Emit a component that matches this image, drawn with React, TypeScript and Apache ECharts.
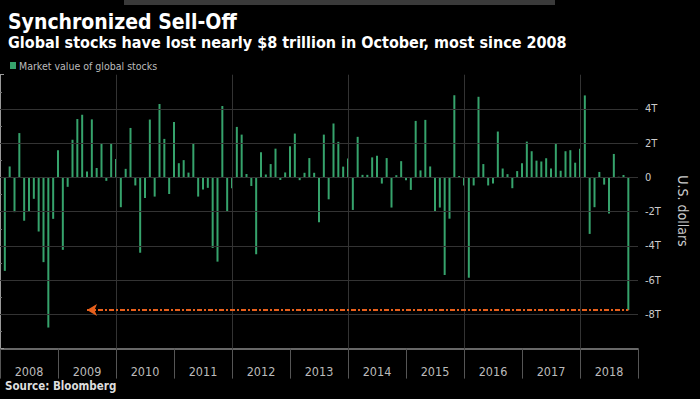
import React, { useEffect, useRef } from "react";
import * as echarts from "echarts";

const years = ["2008", "2009", "2010", "2011", "2012", "2013", "2014", "2015", "2016", "2017", "2018"];

// Monthly change in market value of global stocks, trillions of US$
const v2008 = [-5.46, 0.64, -2.03, 2.59, -2.53, -1.99, -1.25, -3.16, -4.95, -8.77, -2.42, 1.58];
const v2009 = [-4.23, -0.55, 2.2, 3.41, 3.66, 0.35, 3.39, 0.55, 2.0, -0.2, 2.0, 1.08];
const v2010 = [-1.74, 0.5, 2.89, -0.47, -4.4, -1.2, 3.38, -1.12, 4.29, 2.25, -0.97, 3.23];
const v2011 = [0.83, 1.01, 0.28, 2.0, -1.12, -0.7, -0.61, -4.12, -4.92, 4.17, -1.98, -0.63];
const v2012 = [2.95, 2.5, 0.2, -0.5, -4.49, 1.47, 0.17, 0.78, 1.68, -0.15, 0.29, 1.82];
const v2013 = [2.56, -0.16, 0.27, 1.13, 0.27, -2.62, 2.5, -1.28, 3.15, 2.08, 0.63, 1.11];
const v2014 = [-1.9, 2.37, 0.15, 0.15, 1.17, 1.26, -0.36, 1.13, -1.76, 0.13, 0.95, -0.16];
const v2015 = [-0.73, 3.3, 0.41, 3.36, 0.64, -2.0, -1.76, -5.7, -2.41, 4.8, 0.08, -0.47];
const v2016 = [-5.86, -0.47, 4.71, 0.78, -0.47, -0.35, 2.68, 0.52, 0.19, -0.63, 0.37, 0.83];
const v2017 = [2.09, 1.53, 0.98, 0.93, 1.12, 0.52, 1.95, 0.39, 1.53, 1.59, 0.86, 1.67];
const v2018 = [4.79, -3.3, -1.74, 0.32, -0.42, -2.11, 1.37, 0.04, 0.14, -7.75];

const yTicks = [4, 2, 0, -2, -4, -6, -8];
const yearGridMonths = [24, 48, 72, 96, 120];
const arrowStartMonth = 18;

const F = "'DejaVu Sans Condensed', 'DejaVu Sans', sans-serif";

export default function App() {
  const ref = useRef<HTMLDivElement>(null);
  useEffect(() => {
    document.body.style.margin = "0";
    document.body.style.background = "#000";
    if (!ref.current) return;
    const chart = echarts.init(ref.current, null, { renderer: "svg" });
    const values = [
      ...v2008, ...v2009, ...v2010, ...v2011, ...v2012, ...v2013,
      ...v2014, ...v2015, ...v2016, ...v2017, ...v2018,
    ];
    const lastIdx = values.length;
    const lastVal = values[values.length - 1];
    const option = {
      backgroundColor: "#000",
      animation: false,
      title: {
        text: "Synchronized Sell-Off",
        subtext: "Global stocks have lost nearly $8 trillion in October, most since 2008",
        left: 3,
        top: 6,
        itemGap: 2,
        textStyle: { color: "#fff", fontSize: 21, fontWeight: "bold", fontFamily: F },
        subtextStyle: { color: "#fff", fontSize: 16, fontWeight: "bold", fontFamily: F },
      },
      legend: {
        data: ["Market value of global stocks"],
        left: 5,
        top: 55,
        icon: "rect",
        itemWidth: 6,
        itemHeight: 7,
        itemGap: 4,
        textStyle: { color: "#bbb", fontSize: 10.5, fontFamily: F, padding: [0, 0, 0, -2] },
      },
      grid: { left: 0, right: 62, top: 74.7, bottom: 50.4 },
      xAxis: [
        { type: "value", min: 0, max: 132, show: false, splitLine: { show: false } },
        {
          type: "category",
          data: years,
          position: "bottom",
          boundaryGap: true,
          axisLine: { onZero: false, lineStyle: { color: "#8a8a8a", width: 1.5 } },
          axisTick: { show: true, length: 30, lineStyle: { color: "#555" } },
          axisLabel: { color: "#bbb", fontSize: 12.5, margin: 16, fontFamily: F },
          splitLine: { show: false },
        },
      ],
      yAxis: {
        type: "value",
        position: "right",
        min: -10,
        max: 6,
        interval: 2,
        axisLine: { show: true, lineStyle: { color: "#999" } },
        axisTick: { show: true, length: 4, lineStyle: { color: "#999" } },
        minorTick: { show: true, splitNumber: 2, length: 2, lineStyle: { color: "#777" } },
        axisLabel: {
          color: "#ccc",
          fontSize: 11,
          margin: 7,
          fontFamily: F,
          formatter: (v: number) => (v > 4 || v < -8 ? "" : v === 0 ? "0" : v + "T"),
        },
        splitLine: { show: false },
      },
      graphic: [
        { type: "rect", shape: { x: 124, y: 0, width: 431, height: 5 }, style: { fill: "#3a3a3a" }, silent: true },
        {
          type: "text",
          x: 683,
          y: 211,
          rotation: -Math.PI / 2,
          style: {
            text: "U.S. dollars",
            fill: "#ccc",
            font: `14px ${F}`,
            align: "center",
            verticalAlign: "middle",
          },
        },
        {
          type: "text",
          left: 5,
          top: 380,
          style: { text: "Source: Bloomberg", fill: "#ddd", font: `bold 11.5px ${F}` },
        },
      ],
      series: [
        {
          type: "line",
          data: [],
          z: 0,
          silent: true,
          markLine: {
            silent: true,
            symbol: "none",
            label: { show: false },
            lineStyle: { color: "#333", width: 1, type: "solid" },
            data: [
              ...yTicks.map((v) => ({ yAxis: v })),
              ...yearGridMonths.map((m) => ({ xAxis: m })),
            ],
          },
        },
        {
          type: "bar",
          name: "Market value of global stocks",
          xAxisIndex: 0,
          data: values.map((v, i) => [i + 1, v]),
          barWidth: 2,
          itemStyle: { color: "#36a36c" },
          z: 2,
        },
        {
          type: "line",
          data: [],
          z: 5,
          silent: true,
          markLine: {
            silent: true,
            symbol: ["arrow", "none"],
            symbolSize: [9, 10],
            label: { show: false },
            lineStyle: { color: "#e8601c", width: 2, type: [5, 2, 2, 2] },
            data: [[{ coord: [arrowStartMonth, lastVal] }, { coord: [lastIdx, lastVal] }]],
          },
        },
      ],
    };
    chart.setOption(option as any);
    return () => chart.dispose();
  }, []);
  return <div ref={ref} style={{ width: 700, height: 399 }} />;
}
